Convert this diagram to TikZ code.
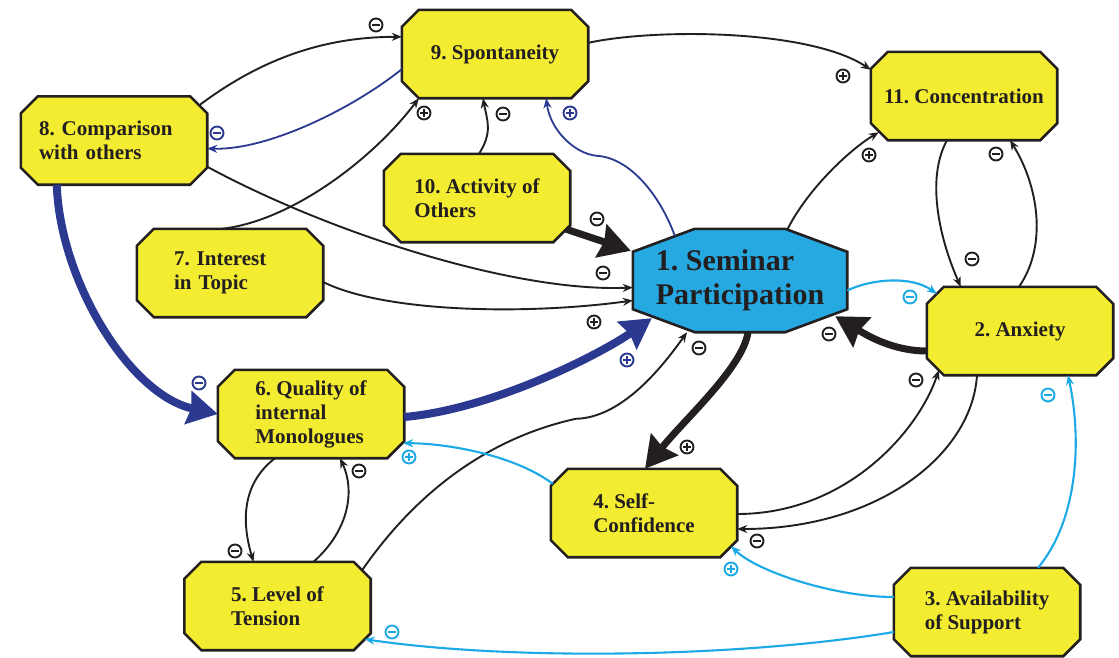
\documentclass[tikz,border=0pt]{standalone}
\usepackage{fontspec}
\setmainfont{Liberation Serif}
\usetikzlibrary{arrows.meta,calc,backgrounds}
\definecolor{ink}{RGB}{35,31,32}
\definecolor{yel}{RGB}{243,236,48}
\definecolor{cyanfill}{RGB}{38,169,224}
\definecolor{dblue}{RGB}{43,57,144}
\definecolor{lblue}{RGB}{28,170,230}
\frenchspacing
\newcommand\octfill[4]{%
  \begin{scope}[on background layer]
  \filldraw[#4] ($(#1.north west)+(#2,0)$) -- ($(#1.north east)+(-#2,0)$) -- ($(#1.north east)+(0,#3)$) -- ($(#1.south east)+(0,-#3)$) -- ($(#1.south east)+(-#2,0)$) -- ($(#1.south west)+(#2,0)$) -- ($(#1.south west)+(0,-#3)$) -- ($(#1.north west)+(0,#3)$) -- cycle;
  \end{scope}}
\begin{document}
\begin{tikzpicture}[x=1pt,y=-1pt,
  ybox/.style={rectangle,minimum width=186pt,minimum height=88pt,inner sep=0pt,align=left,text=ink,font=\fontsize{21}{24}\selectfont\bfseries},
  bbox/.style={rectangle,minimum width=214pt,minimum height=103pt,inner sep=0pt,align=left,text=ink,font=\fontsize{30}{34}\selectfont\bfseries},
  yoct/.style={fill=yel,draw=ink,line width=2.6pt},
  boct/.style={fill=cyanfill,draw=ink,line width=2.6pt},
  lnk/.style={draw=ink,line width=1.9pt,-{Stealth[length=10pt,width=8pt]}},
  lnkdb/.style={draw=dblue,line width=1.8pt,-{Stealth[length=10pt,width=8pt]}},
  lnklb/.style={draw=lblue,line width=2.1pt,-{Stealth[length=10pt,width=8pt]}},
  thkb/.style={draw=ink,line width=7pt,-{Stealth[length=31pt,width=34pt,inset=3pt]}},
  thkdb/.style={draw=dblue,line width=8pt,-{Stealth[length=30pt,width=33pt,inset=3pt]}},
  sgn/.style={circle,draw=#1,fill=white,line width=1.9pt,minimum size=13pt,inner sep=0pt},
  sgminus/.style={sgn=#1,path picture={\draw[#1,line width=1.9pt] ($(path picture bounding box.center)+(-4,0)$) -- ($(path picture bounding box.center)+(4,0)$);}},
  sgplus/.style={sgn=#1,path picture={\draw[#1,line width=1.9pt] ($(path picture bounding box.center)+(-4,0)$) -- ($(path picture bounding box.center)+(4,0)$) ($(path picture bounding box.center)+(0,-4)$) -- ($(path picture bounding box.center)+(0,4)$);}}
]
\useasboundingbox (0,0) rectangle (1119,657);
\begin{scope}[on background layer]
\fill[white] (0,0) rectangle (1119,657);
\end{scope}

% nodes
\node[ybox] (n9) at (495,54) {9. Spontaneity};
\node[ybox,text width=150pt] (n8) at (114,140.5) {8. Comparison\\with others};
\node[ybox] (n10) at (477,198) {10. Activity of\\Others};
\node[ybox,text width=112pt] (n7) at (230,273) {7. Interest\\in Topic};
\node[ybox] (n11) at (964,96) {11. Concentration};
\node[ybox] (n2) at (1020,331) {2. Anxiety};
\node[ybox] (n6) at (311,414) {6. Quality of\\internal\\Monologues};
\node[ybox] (n5) at (277.5,606) {5. Level of\\Tension};
\node[ybox] (n4) at (644,513) {4. Self-\\Confidence};
\node[ybox] (n3) at (987,612) {3. Availability\\of Support};
\node[bbox] (n1) at (740,280.5) {1. Seminar\\Participation};

\octfill{n9}{17}{17}{yoct}
\octfill{n8}{17}{17}{yoct}
\octfill{n10}{17}{17}{yoct}
\octfill{n7}{17}{17}{yoct}
\octfill{n11}{17}{17}{yoct}
\octfill{n2}{17}{17}{yoct}
\octfill{n6}{17}{17}{yoct}
\octfill{n5}{17}{17}{yoct}
\octfill{n4}{17}{17}{yoct}
\octfill{n3}{17}{17}{yoct}
\octfill{n1}{62}{23}{boct}

% connectors
\draw[lnk] ($(n8.north east)+(-8,9)$) .. controls +(60,-45) and +(-80,0) .. ($(n9.north west)+(0,27)$);
\draw[lnkdb] ($(n9.south west)+(0,-29)$) .. controls +(-50,40) and +(60,2) .. ($(n8.east)+(0,8)$);
\draw[lnk] ($(n7.north)+(-8,0)$) .. controls +(70,-8) and +(-45,60) .. ($(n9.south west)+(17,0)$);
\draw[lnk] ($(n10.north)+(2,0)$) .. controls +(14,-22) and +(4,22) .. ($(n9.south)+(-12,0)$);
\draw[lnkdb] ($(n1.north west)+(42,7)$) .. controls +(-15,-41) and +(33,2) .. ++(-78,-80) .. controls +(-22,-2) and +(4,32) .. ($(n9.south east)+(-42,0)$);
\draw[lnk] ($(n9.north east)+(0,33)$) .. controls +(70,-15) and +(-60,-40) .. ($(n11.north west)+(0,18)$);
\draw[lnk] ($(n1.north east)+(-60,1)$) .. controls +(20,-40) and +(-30,18) .. ($(n11.south west)+(8,-8)$);
\draw[lnk] ($(n11.south)+(-17,0)$) .. controls +(-22,40) and +(-20,-45) .. ($(n2.north west)+(34,0)$);
\draw[lnk] ($(n2.north)+(-1,0)$) .. controls +(29,-42) and +(28,45) .. ($(n11.south)+(46,0)$);
\draw[lnklb] ($(n1.east)+(0,10)$) .. controls +(25,-12) and +(-25,-18) .. ($(n2.north west)+(10,7)$);
\draw[thkb] ($(n2.west)+(0,20)$) .. controls +(-35,0) and +(30,18) .. ($(n1.south east)+(-12,-16)$);
\draw[thkb] ($(n10.south east)+(-4,-13)$) -- ($(n1.north west)+(-2,22)$);
\draw[lnk] ($(n8.south east)+(0,-18)$) .. controls +(120,65) and +(-120,5) .. ($(n1.west)+(0,7)$);
\draw[lnk] ($(n7.east)+(0,9)$) .. controls +(60,30) and +(-110,15) .. ($(n1.west)+(0,20)$);
\draw[thkdb] ($(n6.east)+(0,3)$) .. controls +(90,-8) and +(-50,35) .. ($(n1.south west)+(19,-14)$);
\draw[thkdb] ($(n8.south west)+(36,0)$) .. controls +(3,96) and +(-88,-19) .. (n6.west);
\draw[lnk] ($(n5.north east)+(-9,9)$) .. controls +(49,-71) and +(-95,21) .. ++(214,-152) .. controls +(45,-1) and +(-27,38) .. ($(n1.south)+(-53,0)$);
\draw[thkb] ($(n1.south)+(8,0)$) .. controls +(-5,35) and +(40,-50) .. ($(n4.north)+(1,0)$);
\draw[lnk] ($(n4.east)+(0,1)$) .. controls +(110,0) and +(-20,60) .. ($(n2.south west)+(12,-5)$);
\draw[lnk] ($(n2.south)+(-43,0)$) .. controls +(-5,80) and +(140,0) .. ($(n4.east)+(0,16)$);
\draw[lnk] ($(n6.south)+(-36,0)$) .. controls +(-35,27) and +(-11,-37) .. ($(n5.north)+(-24,0)$);
\draw[lnk] ($(n5.north)+(36,0)$) .. controls +(36,-32) and +(15,32) .. ($(n6.south)+(29,0)$);
\draw[lnklb] ($(n4.north west)+(2,15)$) .. controls +(-40,-30) and +(40,0) .. ($(n6.south east)+(-1,-15)$);
\draw[lnklb] ($(n3.west)+(0,-15)$) .. controls +(-60,0) and +(25,25) .. ($(n4.south east)+(-6,-11)$);
\draw[lnklb] ($(n3.west)+(0,20)$) .. controls +(-150,25) and +(150,22) .. ($(n5.south east)+(-6,-11)$);
\draw[lnklb] ($(n3.north)+(51,0)$) .. controls +(40,-48) and +(14,65) .. ($(n2.south)+(48,0)$);

% signs
\node[sgminus=ink] (s1) at (376,25) {};
\node[sgminus=dblue] (s2) at (217,133) {};
\node[sgplus=ink] (s3) at (424,113) {};
\node[sgminus=ink] (s4) at (503,114) {};
\node[sgplus=dblue] (s5) at (570,113) {};
\node[sgplus=ink] (s6) at (843,76) {};
\node[sgplus=ink] (s7) at (869,155) {};
\node[sgminus=ink] (s8) at (996,154) {};
\node[sgminus=ink] (s9) at (972,259) {};
\node[sgminus=lblue] (s10) at (910,297) {};
\node[sgminus=ink] (s11) at (829,334) {};
\node[sgminus=ink] (s12) at (597,219) {};
\node[sgminus=ink] (s13) at (603,273) {};
\node[sgplus=ink] (s14) at (594,322) {};
\node[sgplus=dblue] (s15) at (627,360) {};
\node[sgminus=ink] (s16) at (699,348) {};
\node[sgplus=ink] (s17) at (687,447) {};
\node[sgminus=ink] (s18) at (916,380) {};
\node[sgminus=ink] (s19) at (757,541) {};
\node[sgminus=dblue] (s20) at (199,383) {};
\node[sgplus=lblue] (s21) at (409,457) {};
\node[sgminus=ink] (s22) at (359,471) {};
\node[sgminus=ink] (s23) at (235,551) {};
\node[sgplus=lblue] (s24) at (731,569) {};
\node[sgminus=lblue] (s25) at (392,632) {};
\node[sgminus=lblue] (s26) at (1048,395) {};
\end{tikzpicture}
\end{document}
